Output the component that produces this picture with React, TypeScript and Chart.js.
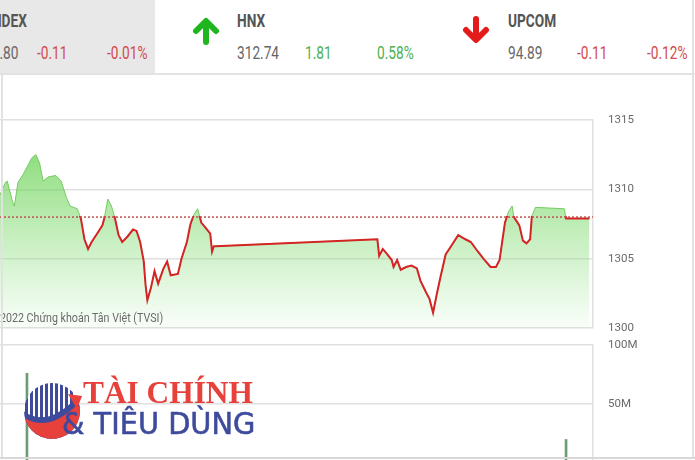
import React, { useEffect, useRef } from "react";
import { Chart, registerables } from "chart.js";

Chart.register(...registerables);

// ---------- data ----------
const sessionStart = "09:30";
const sessionEnd = "15:00";

const priceTimes = [
  "09:30", "09:33", "09:34", "09:37", "09:38", "09:40", "09:43", "09:47", "09:48", "09:50",
  "09:52", "09:54", "09:57", "10:01", "10:04", "10:07", "10:09", "10:13", "10:15", "10:17",
  "10:19", "10:21", "10:24", "10:27", "10:28", "10:30", "10:32", "10:34", "10:36", "10:38",
  "10:41", "10:44", "10:46", "10:48", "10:50", "10:51", "10:52", "10:54", "10:56", "10:58",
  "11:01", "11:03", "11:05", "11:09", "11:11", "11:14", "11:16", "11:18", "11:20", "11:22",
  "11:24", "11:27", "11:28", "11:29", "11:30", "13:00", "13:01", "13:03", "13:05", "13:08",
  "13:09", "13:11", "13:13", "13:16", "13:19", "13:22", "13:24", "13:27", "13:29", "13:31",
  "13:33", "13:35", "13:38", "13:41", "13:45", "13:49", "13:52", "13:56", "13:59", "14:03",
  "14:06", "14:08", "14:10", "14:11", "14:13", "14:15", "14:16", "14:19", "14:21", "14:23",
  "14:25", "14:26", "14:28", "14:44", "14:45", "14:58",
];
const priceValues = [
  1309.6, 1310.5, 1310.6, 1309.1, 1308.8, 1310.5, 1311.1, 1312.1, 1312.3, 1312.5,
  1311.9, 1310.6, 1310.9, 1311.0, 1310.6, 1309.4, 1308.8, 1308.6, 1307.9, 1306.4,
  1305.7, 1306.2, 1306.8, 1307.4, 1307.9, 1309.3, 1308.8, 1307.9, 1306.7, 1306.2,
  1306.6, 1307.1, 1307.0, 1306.2, 1304.8, 1303.1, 1302.0, 1302.9, 1304.1, 1303.2,
  1304.3, 1304.8, 1303.8, 1303.9, 1305.0, 1306.2, 1307.5, 1308.2, 1308.6, 1307.6,
  1307.3, 1306.8, 1305.5, 1305.9, 1305.9, 1306.4, 1305.2, 1305.7, 1305.4, 1304.9,
  1304.4, 1304.9, 1304.2, 1304.4, 1304.5, 1304.3, 1303.4, 1302.6, 1302.1, 1301.1,
  1302.4, 1303.6, 1305.3, 1305.9, 1306.7, 1306.4, 1306.2, 1305.5, 1305.0, 1304.4,
  1304.4, 1304.9, 1306.7, 1307.6, 1308.4, 1308.8, 1308.0, 1307.4, 1306.3, 1306.1,
  1306.4, 1308.1, 1308.7, 1308.6, 1307.9, 1307.9,
];
const referencePrice = 1308.0;
const priceTicks = [1300, 1305, 1310, 1315];

const volumeTimes = ["09:45", "14:45"];
const volumeValues = [76, 20]; // millions
const volumeTicks = [50, 100];

// header quotes
const quoteNames = ["VNINDEX", "HNX", "UPCOM"];
const quoteValues = ["1307.80", "312.74", "94.89"];
const quoteChanges = ["-0.11", "1.81", "-0.11"];
const quotePercents = ["-0.01%", "0.58%", "-0.12%"];

const copyright = "2022 Chứng khoán Tân Việt (TVSI)";

// ---------- helpers ----------
const toMin = (t: string) => {
  const [h, m] = t.split(":").map(Number);
  return h * 60 + m;
};

const FONT = 'Roboto, "Noto Sans", sans-serif';
const GRID = "#e0e0e0";
const RED = "#d42424";
const UP = "#4cb050";
const DOWN = "#d24b4b";

// clips the red line dataset to the area below the reference price
const belowRefClip = {
  id: "belowRefClip",
  beforeDatasetDraw(chart: any, args: any) {
    if (chart.data.datasets[args.index]?.label !== "priceLine") return;
    const y = chart.scales.y.getPixelForValue(referencePrice);
    const a = chart.chartArea;
    chart.ctx.save();
    chart.ctx.beginPath();
    chart.ctx.rect(a.left - 2, y - 1, a.right - a.left + 4, a.bottom - y + 6);
    chart.ctx.clip();
  },
  afterDatasetDraw(chart: any, args: any) {
    if (chart.data.datasets[args.index]?.label !== "priceLine") return;
    chart.ctx.restore();
  },
};

const yAxisCommon = {
  position: "right",
  afterFit: (s: any) => {
    s.width = 102;
  },
  grid: {
    color: GRID,
    lineWidth: 1.5,
    drawTicks: true,
    tickLength: 15,
    tickColor: "rgba(0,0,0,0)",
  },
  border: { display: true, color: GRID, width: 1.5 },
};

function PriceChart() {
  const ref = useRef<HTMLCanvasElement | null>(null);
  useEffect(() => {
    if (!ref.current) return;
    const xMin = toMin(sessionStart);
    const xMax = toMin(sessionEnd);
    const points = priceTimes.map((t, i) => ({ x: toMin(t), y: priceValues[i] }));
    const chart = new Chart(ref.current, {
      type: "line",
      data: {
        datasets: [
          {
            label: "ref",
            data: [
              { x: xMin, y: referencePrice },
              { x: xMax, y: referencePrice },
            ],
            borderColor: "#c0504d",
            borderWidth: 1.5,
            borderDash: [2, 2],
            pointRadius: 0,
            fill: false,
            order: 0,
          },
          {
            label: "priceLine",
            data: points,
            pointRadius: 0,
            borderWidth: 2,
            borderColor: RED,
            tension: 0,
            fill: false,
            order: 1,
          },
          {
            label: "priceArea",
            data: points,
            pointRadius: 0,
            borderWidth: 1,
            borderColor: "rgba(105,200,85,0.9)",
            tension: 0,
            fill: "start",
            order: 2,
            backgroundColor: (ctx: any) => {
              const { chart } = ctx;
              const area = chart.chartArea;
              if (!area) return "rgba(120,215,100,0.5)";
              const g = chart.ctx.createLinearGradient(0, area.top, 0, area.bottom);
              g.addColorStop(0, "rgba(95,208,72,0.85)");
              g.addColorStop(0.45, "rgba(110,212,90,0.5)");
              g.addColorStop(1, "rgba(140,225,130,0.06)");
              return g;
            },
          },
        ],
      },
      options: {
        animation: false,
        responsive: true,
        maintainAspectRatio: false,
        layout: { padding: { top: 45, bottom: 12, left: 0, right: 0 } },
        plugins: { legend: { display: false }, tooltip: { enabled: false } },
        scales: {
          x: { type: "linear", display: false, min: xMin, max: xMax },
          y: {
            ...yAxisCommon,
            min: priceTicks[0],
            max: priceTicks[priceTicks.length - 1],
            afterBuildTicks: (s: any) => {
              s.ticks = priceTicks.map((v) => ({ value: v }));
            },
            ticks: {
              padding: 0,
              color: "#6a6a6a",
              font: { family: FONT, size: 11.5 },
              callback: (v: any) => String(v),
            },
          },
        },
      },
      plugins: [belowRefClip],
    } as any);
    return () => chart.destroy();
  }, []);
  return (
    <div style={{ position: "absolute", left: 0, top: 75, width: 695, height: 265 }}>
      <canvas ref={ref} style={{ display: "block" }} />
    </div>
  );
}

function VolumeChart() {
  const ref = useRef<HTMLCanvasElement | null>(null);
  useEffect(() => {
    if (!ref.current) return;
    const xMin = toMin(sessionStart);
    const xMax = toMin(sessionEnd);
    const chart = new Chart(ref.current, {
      type: "bar",
      data: {
        datasets: [
          {
            data: volumeTimes.map((t, i) => ({ x: toMin(t), y: volumeValues[i] })),
            backgroundColor: "#6b9c74",
            barThickness: 2,
          },
        ],
      },
      options: {
        animation: false,
        responsive: true,
        maintainAspectRatio: false,
        layout: { padding: { top: 10, bottom: 0, left: 0, right: 0 } },
        plugins: { legend: { display: false }, tooltip: { enabled: false } },
        scales: {
          x: { type: "linear", display: false, min: xMin, max: xMax, offset: false },
          y: {
            ...yAxisCommon,
            min: 0,
            max: volumeTicks[volumeTicks.length - 1],
            afterBuildTicks: (s: any) => {
              s.ticks = volumeTicks.map((v) => ({ value: v }));
            },
            ticks: {
              padding: 0,
              color: "#6a6a6a",
              font: { family: FONT, size: 11.5 },
              callback: (v: any) => v + "M",
            },
          },
        },
      },
    } as any);
    return () => chart.destroy();
  }, []);
  return (
    <div style={{ position: "absolute", left: 0, top: 335, width: 695, height: 135 }}>
      <canvas ref={ref} style={{ display: "block" }} />
    </div>
  );
}

const Txt = (p: {
  x?: number;
  right?: number;
  y: number;
  size: number;
  color: string;
  bold?: boolean;
  sx?: number;
  children: React.ReactNode;
}) => (
  <div
    style={{
      position: "absolute",
      left: p.x,
      right: p.right,
      top: p.y,
      fontFamily: FONT,
      fontSize: p.size,
      fontWeight: p.bold ? 700 : 400,
      color: p.color,
      whiteSpace: "nowrap",
      lineHeight: 1,
      transform: `scaleX(${p.sx ?? 0.76})`,
      transformOrigin: p.right !== undefined ? "right center" : "left center",
    }}
  >
    {p.children}
  </div>
);

const Arrow = ({ x, y, up, color }: { x: number; y: number; up: boolean; color: string }) => (
  <svg width={28} height={28} viewBox="0 0 28 28" style={{ position: "absolute", left: x, top: y }}>
    <g transform={up ? "" : "rotate(180 14 14)"}>
      <path
        d="M14 25 V5 M4 14 L14 4 L24 14"
        stroke={color}
        strokeWidth={6}
        strokeLinecap="round"
        strokeLinejoin="round"
        fill="none"
      />
    </g>
  </svg>
);

function Logo() {
  const stripes = [];
  for (let i = 0; i < 11; i++) {
    stripes.push(<rect key={i} x={3 + i * 5} y={0} width={3} height={60} fill="#3e4a9c" />);
  }
  return (
    <>
      <svg width={62} height={62} viewBox="0 0 62 62" style={{ position: "absolute", left: 22, top: 380 }}>
        <defs>
          <clipPath id="logoclip">
            <circle cx={30} cy={31} r={28} />
          </clipPath>
        </defs>
        <g clipPath="url(#logoclip)">
          <rect x={0} y={0} width={62} height={62} fill="#ffffff" />
          {stripes}
          <path d="M0 30 Q 22 48 50 22 L 62 20 L 62 62 L 0 62 Z" fill="#3e4a9c" />
          <path d="M0 36 Q 24 54 54 26 L 62 26 L 62 62 L 0 62 Z" fill="#e8413c" />
        </g>
        <path d="M46 14 L60 16 L55 29 Z" fill="#e8413c" />
      </svg>
      <div
        style={{
          position: "absolute",
          left: 83,
          top: 376,
          fontFamily: '"Liberation Serif", "DejaVu Serif", serif',
          fontWeight: 700,
          fontSize: 32,
          color: "#e8413c",
          lineHeight: 1,
          whiteSpace: "nowrap",
          transform: "scaleX(0.98)",
          transformOrigin: "left center",
        }}
      >
        TÀI CHÍNH
      </div>
      <div
        style={{
          position: "absolute",
          left: 62,
          top: 409,
          fontFamily: '"DejaVu Sans", sans-serif',
          fontSize: 30,
          color: "#3e4a9c",
          lineHeight: 1,
          whiteSpace: "nowrap",
          WebkitTextStroke: "0.6px #3e4a9c",
          transform: "scaleX(0.96)",
          transformOrigin: "left center",
        }}
      >
        &amp; TIÊU DÙNG
      </div>
    </>
  );
}

export default function App() {
  return (
    <div
      style={{
        position: "fixed",
        left: 0,
        top: 0,
        width: 695,
        height: 460,
        overflow: "hidden",
        background: "#ffffff",
      }}
    >
      {/* header */}
      <div style={{ position: "absolute", left: 0, top: 0, width: 155, height: 73, background: "#e8e8e8" }} />
      <div style={{ position: "absolute", left: 0, top: 73, width: 695, height: 1.5, background: "#e2e2e2" }} />

      <Txt right={668} y={11} size={19} color="#555" bold sx={0.72}>
        {quoteNames[0]}
      </Txt>
      <Txt right={677} y={44} size={18} color="#666">
        {quoteValues[0]}
      </Txt>
      <Txt x={37} y={44} size={18} color={DOWN}>
        {quoteChanges[0]}
      </Txt>
      <Txt x={107} y={44} size={18} color={DOWN}>
        {quotePercents[0]}
      </Txt>

      <Arrow x={192} y={17} up color="#1fb51f" />
      <Txt x={237} y={11} size={19} color="#555" bold sx={0.72}>
        {quoteNames[1]}
      </Txt>
      <Txt x={237} y={44} size={18} color="#666">
        {quoteValues[1]}
      </Txt>
      <Txt x={305} y={44} size={18} color={UP}>
        {quoteChanges[1]}
      </Txt>
      <Txt x={377} y={44} size={18} color={UP}>
        {quotePercents[1]}
      </Txt>

      <Arrow x={462} y={16} up={false} color="#e31b1b" />
      <Txt x={508} y={11} size={19} color="#555" bold sx={0.72}>
        {quoteNames[2]}
      </Txt>
      <Txt x={508} y={44} size={18} color="#666">
        {quoteValues[2]}
      </Txt>
      <Txt x={577} y={44} size={18} color={DOWN}>
        {quoteChanges[2]}
      </Txt>
      <Txt x={647} y={44} size={18} color={DOWN}>
        {quotePercents[2]}
      </Txt>

      <PriceChart />
      <VolumeChart />

      <Txt x={0} y={311} size={13.5} color="#6a6a6a" sx={0.79}>
        {copyright}
      </Txt>

      <Logo />

      {/* frame */}
      <div style={{ position: "absolute", left: 1, top: 74, width: 1.5, height: 385, background: "#e2e2e2" }} />
      <div style={{ position: "absolute", left: 692, top: 0, width: 1.5, height: 459, background: "#e2e2e2" }} />
      <div style={{ position: "absolute", left: 0, top: 457, width: 695, height: 1.5, background: "#d8d8d8" }} />
    </div>
  );
}
